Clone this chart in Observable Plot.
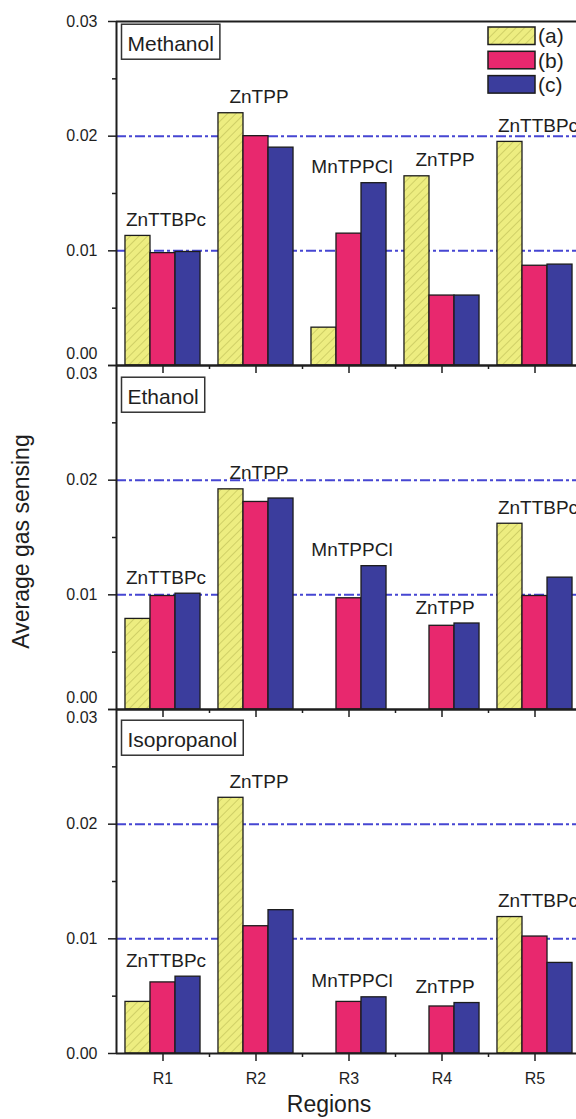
<!DOCTYPE html>
<html><head><meta charset="utf-8">
<script src="https://cdn.jsdelivr.net/npm/d3@7"></script>
<script src="https://cdn.jsdelivr.net/npm/@observablehq/plot@0.6"></script>
<style>
html,body{margin:0;padding:0;background:#fff;overflow:hidden;}
#chart{width:576px;height:1119px;overflow:hidden;position:relative;}
</style></head><body><div id="chart"></div>
<script>
// ---- data ----
const gases = ["Methanol", "Ethanol", "Isopropanol"];
const regions = ["R1", "R2", "R3", "R4", "R5"];
const seriesNames = ["(a)", "(b)", "(c)"];
const methanolA = [0.0113, 0.0220, 0.0033, 0.0165, 0.0195];
const methanolB = [0.0098, 0.0200, 0.0115, 0.0061, 0.0087];
const methanolC = [0.0099, 0.0190, 0.0159, 0.0061, 0.0088];
const ethanolA = [0.0079, 0.0192, 0, 0, 0.0162];
const ethanolB = [0.0099, 0.0181, 0.0097, 0.0073, 0.0099];
const ethanolC = [0.0101, 0.0184, 0.0125, 0.0075, 0.0115];
const isopropanolA = [0.0045, 0.0223, 0, 0, 0.0119];
const isopropanolB = [0.0062, 0.0111, 0.0045, 0.0041, 0.0102];
const isopropanolC = [0.0067, 0.0125, 0.0049, 0.0044, 0.0079];
const compoundLabels = ["ZnTTBPc", "ZnTPP", "MnTPPCl", "ZnTPP", "ZnTTBPc"];
const yTicks = [0, 0.01, 0.02, 0.03];
const yTickLabels = ["0.00", "0.01", "0.02", "0.03"];
const yMinorTicks = [0.005, 0.015, 0.025];
const gridValues = [0.01, 0.02];
const yTitle = "Average gas sensing";
const xTitle = "Regions";

// ---- derived tables ----
const valuesBy = {
  Methanol: [methanolA, methanolB, methanolC],
  Ethanol: [ethanolA, ethanolB, ethanolC],
  Isopropanol: [isopropanolA, isopropanolB, isopropanolC]
};
const bars = [];
gases.forEach(g => valuesBy[g].forEach((arr, k) => arr.forEach((v, i) =>
  bars.push({gas: g, region: i + 1, series: k, value: v}))));
const labelRows = [];
gases.forEach(g => regions.forEach((r, i) => labelRows.push({
  gas: g, region: i + 1, text: compoundLabels[i],
  top: Math.max(...valuesBy[g].map(a => a[i]))
})));
const yLabelRows = gases.flatMap((g, gi) => yTicks.map((v, j) => ({gas: g, gi, v, label: yTickLabels[j]})));
const yMid = yLabelRows.filter(d => (d.v > 0 && d.v < 0.03) || (d.v === 0.03 && d.gi === 0) || (d.v === 0 && d.gi === gases.length - 1));
const yTopShift = yLabelRows.filter(d => d.v === 0.03 && d.gi > 0);
const yBottomShift = yLabelRows.filter(d => d.v === 0 && d.gi < gases.length - 1);

// ---- style ----
const FONT = "'Liberation Sans', Arial, sans-serif";
const ink = "#1e1e1e";
const seriesFill = ["url(#hatchA)", "#E8286E", "#3B3D9D"];
const barW = 0.269;
const panelDy = [23, 32, 31];

const marks = [];
marks.push(Plot.ruleY(gridValues, {stroke: "#4646d2", strokeWidth: 2, strokeDasharray: "10,3,3,3"}));
seriesNames.forEach((s, k) => {
  marks.push(Plot.rect(bars.filter(d => d.series === k && d.value > 0), {
    x1: d => d.region + (k - 1.5) * barW,
    x2: d => d.region + (k - 0.5) * barW,
    y1: 0, y2: "value", fy: "gas",
    fill: seriesFill[k], stroke: "#1c1c1c", strokeWidth: 1.3
  }));
});
marks.push(Plot.ruleY([0, 0.03], {stroke: ink, strokeWidth: 2}));
marks.push(Plot.ruleX([0.5], {stroke: ink, strokeWidth: 2}));
// axes ticks
marks.push(Plot.axisY({ticks: yTicks, tickSize: 8, tickFormat: () => "", stroke: ink, strokeWidth: 1.5}));
marks.push(Plot.axisY({ticks: yMinorTicks, tickSize: 4, tickFormat: () => "", stroke: ink, strokeWidth: 1.5}));
marks.push(Plot.axisX({ticks: [1, 2, 3, 4, 5], tickSize: 8, tickFormat: () => "", facetAnchor: null, label: null, stroke: ink, strokeWidth: 1.5}));
marks.push(Plot.axisX({ticks: [1.5, 2.5, 3.5, 4.5], tickSize: 4, tickFormat: () => "", facetAnchor: null, label: null, stroke: ink, strokeWidth: 1.5}));
marks.push(Plot.axisX({ticks: [1, 2, 3, 4, 5], tickSize: 0, tickPadding: 19, tickFormat: d => regions[d - 1], label: null, fontSize: 16, fill: ink}));
// y tick labels
const yLab = (rows, dy) => Plot.text(rows, {fy: "gas", y: "v", text: "label", frameAnchor: "left", textAnchor: "end", dx: -19, dy, fontSize: 16, fill: ink});
marks.push(yLab(yMid, 0), yLab(yTopShift, 8), yLab(yBottomShift, -12));
// compound labels
marks.push(Plot.text(labelRows, {x: "region", y: "top", fy: "gas", text: "text", dy: -16, dx: 3, fontSize: 19, fill: ink}));
// panel labels
gases.forEach((g, gi) => marks.push(Plot.text([g], {fy: d => d, text: d => d, frameAnchor: "top-left", lineAnchor: "middle", dx: 11, dy: panelDy[gi], fontSize: 21, fill: ink})));
// titles
marks.push(Plot.text([yTitle], {fy: [gases[1]], frameAnchor: "left", rotate: -90, textAnchor: "middle", dx: -95, dy: 4, fontSize: 23, fill: ink}));
marks.push(Plot.text([xTitle], {fy: [gases[2]], frameAnchor: "bottom", lineAnchor: "middle", dx: -20, dy: 51, fontSize: 23, fill: ink}));

const chart = Plot.plot({
  width: 576, height: 1119,
  marginTop: 20, marginBottom: 65, marginLeft: 116, marginRight: -5,
  style: {fontFamily: FONT, background: "#fff", color: ink},
  fy: {domain: gases, padding: 0, axis: null},
  x: {domain: [0.5, 5.5]},
  y: {domain: [0, 0.03]},
  marks
});
document.getElementById("chart").appendChild(chart);

// pattern + legend + label boxes
const svg = d3.select(chart);
const defs = svg.insert("defs", ":first-child");
const pat = defs.append("pattern").attr("id", "hatchA").attr("patternUnits", "userSpaceOnUse")
  .attr("width", 6).attr("height", 6).attr("patternTransform", "rotate(45)");
pat.append("rect").attr("width", 6).attr("height", 6).attr("fill", "#EDED80");
pat.append("line").attr("x1", 0).attr("y1", 0).attr("x2", 0).attr("y2", 6).attr("stroke", "#C2C25A").attr("stroke-width", 1.4);

svg.selectAll("text").filter(function() { return gases.includes(this.textContent); }).each(function() {
  const b = this.getBBox();
  d3.select(this.parentNode).insert("rect", () => this)
    .attr("transform", this.getAttribute("transform"))
    .attr("x", b.x - 6).attr("y", b.y - 8).attr("width", b.width + 12).attr("height", b.height + 12)
    .attr("fill", "#fff").attr("stroke", "#333").attr("stroke-width", 1.5);
});

const lg = svg.append("g").attr("font-family", FONT).attr("text-anchor", "start");
seriesNames.forEach((s, k) => {
  const y0 = 27 + k * 24.3;
  lg.append("rect").attr("x", 488).attr("y", y0).attr("width", 47).attr("height", 17.5)
    .attr("fill", seriesFill[k]).attr("stroke", "#1c1c1c").attr("stroke-width", 1.5);
  lg.append("text").attr("x", 538).attr("y", y0 + 9).attr("dy", "0.35em")
    .attr("text-anchor", "start").attr("font-size", 21).attr("fill", ink).text(s);
});
</script></body></html>
